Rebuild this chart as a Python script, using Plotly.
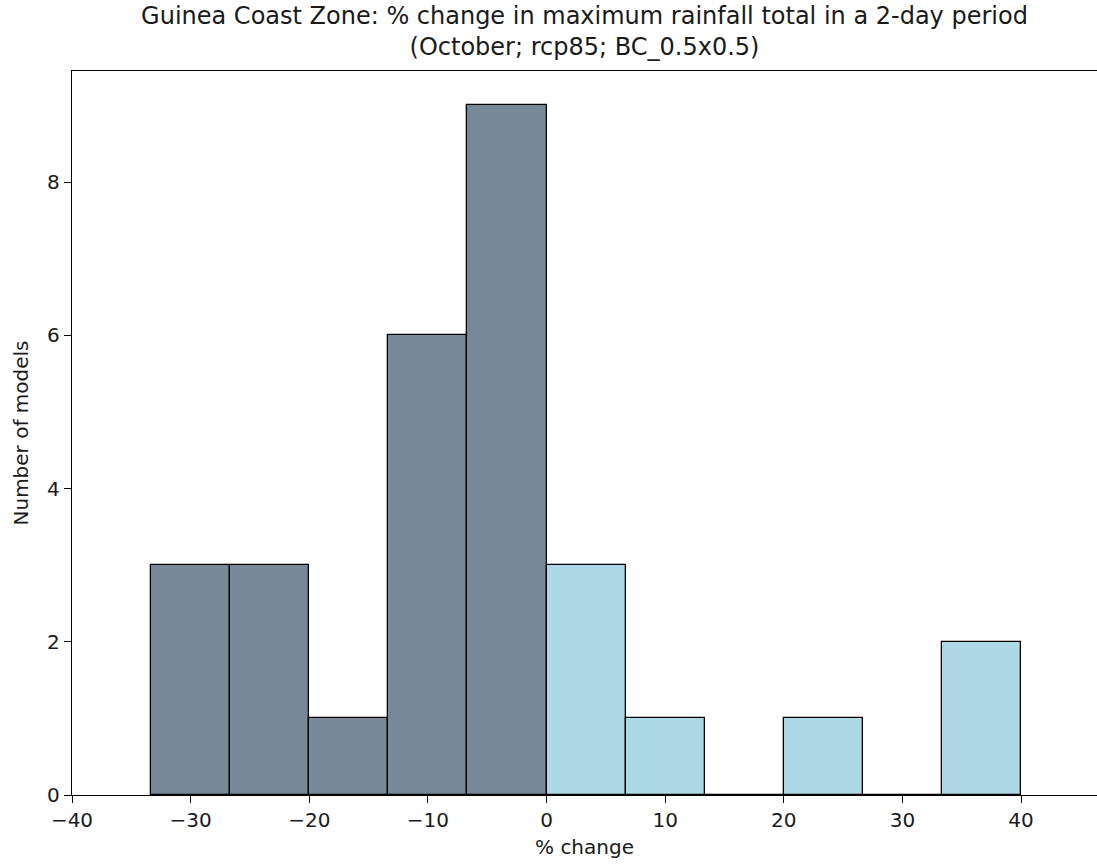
import plotly.graph_objects as go

bin_edges = [-33.33, -26.67, -20.0, -13.33, -6.67, 0.0, 6.67, 13.33, 20.0, 26.67, 33.33, 40.0]
counts = [3, 3, 1, 6, 9, 3, 1, 0, 1, 0, 2]
title_lines = ["Guinea Coast Zone: % change in maximum rainfall total in a 2-day period",
               "(October; rcp85; BC_0.5x0.5)"]
x_ticks = [-40, -30, -20, -10, 0, 10, 20, 30, 40]
y_ticks = [0, 2, 4, 6, 8]

neg_color = "#778899"
pos_color = "#ADD8E6"

centers = [(a + b) / 2 for a, b in zip(bin_edges[:-1], bin_edges[1:])]
widths = [b - a for a, b in zip(bin_edges[:-1], bin_edges[1:])]
colors = [neg_color if c < 0 else pos_color for c in centers]

fig = go.Figure()
fig.add_trace(go.Bar(
    x=centers, y=counts, width=widths,
    marker=dict(color=colors, line=dict(color="black", width=1.3)),
    showlegend=False,
))

font = "DejaVu Sans, sans-serif"
fig.update_layout(
    width=1097, height=865,
    margin=dict(l=72, r=0, t=71, b=70, autoexpand=False),
    plot_bgcolor="white", paper_bgcolor="white",
    font=dict(family=font, color="#1a1a1a", size=20),
    title=dict(text="<br>".join(title_lines), x=0.5, xanchor="center",
               xref="paper", yref="container", y=1 - 24 / 865, yanchor="top",
               font=dict(size=24, family=font)),
    bargap=0,
)
fig.update_xaxes(range=[-40, 46.4], tickvals=x_ticks,
                 ticktext=[("\u2212" + str(-t)) if t < 0 else str(t) for t in x_ticks],
                 ticks="outside", ticklen=7, tickwidth=1.3, tickcolor="black",
                 showline=True, linecolor="black", linewidth=1.3, mirror=True,
                 showgrid=False, zeroline=False, automargin=False,
                 title=dict(text="% change", standoff=8, font=dict(size=20)))
fig.update_yaxes(range=[0, 9.45], tickvals=y_ticks,
                 ticks="outside", ticklen=7, tickwidth=1.3, tickcolor="black",
                 showline=True, linecolor="black", linewidth=1.3,
                 showgrid=False, zeroline=False, automargin=False,
                 title=dict(text="Number of models", standoff=13, font=dict(size=20)))

fig.write_html("out.html", config={"displayModeBar": False},
               post_script="document.body.style.margin='0';document.body.style.overflow='hidden';")
